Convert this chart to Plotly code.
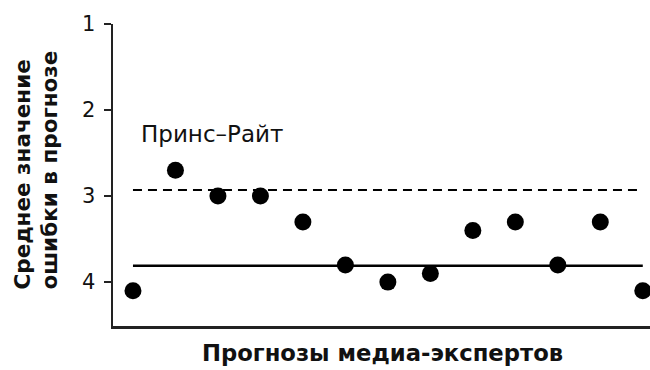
import plotly.graph_objects as go

experts = list(range(13))
errors = [4.1, 2.7, 3.0, 3.0, 3.3, 3.8, 4.0, 3.9, 3.4, 3.3, 3.8, 3.3, 4.1]
dashed_level = 2.93
solid_level = 3.81
y_ticks = [1, 2, 3, 4]
label_text = "Принс–Райт"
x_title = "Прогнозы медиа-экспертов"
y_title = "Среднее значение<br>ошибки в прогнозе"

FONT = "DejaVu Sans, Liberation Sans, Arial, sans-serif"

W, H = 650, 370
L, T, B, R = 113, 24, 44, 0
PW = W - L - R   # 537
PH = H - T - B   # 302


def px(xp):
    return (xp - L) / PW


def py(yp):
    return (T + PH - yp) / PH


fig = go.Figure()
fig.add_trace(go.Scatter(
    x=experts, y=errors, mode="markers",
    marker=dict(size=17, color="black"),
    showlegend=False, hoverinfo="skip", cliponaxis=False))

fig.add_shape(type="line", xref="x", yref="y", x0=experts[0], x1=experts[-1],
              y0=dashed_level, y1=dashed_level,
              line=dict(color="black", width=2, dash="9px,6px"), layer="below")
fig.add_shape(type="line", xref="x", yref="y", x0=experts[0], x1=experts[-1],
              y0=solid_level, y1=solid_level,
              line=dict(color="black", width=2.5), layer="below")

fig.add_annotation(x=px(212), y=py(134), xref="paper", yref="paper", text=label_text,
                   showarrow=False, font=dict(family=FONT, size=23, color="#111"),
                   xanchor="center", yanchor="middle")

fig.add_annotation(x=px(382), y=py(353), xref="paper", yref="paper",
                   text="<b>" + x_title + "</b>", showarrow=False,
                   xanchor="center", yanchor="middle",
                   font=dict(family=FONT, size=22.7, color="#111"))

fig.add_annotation(text="<b>" + y_title + "</b>", xref="paper", yref="paper",
                   x=px(36), y=py(292), textangle=-90,
                   showarrow=False, align="left", xanchor="center", yanchor="bottom",
                   font=dict(family=FONT, size=21.5, color="#111"))

fig.update_layout(
    width=W, height=H,
    margin=dict(l=L, r=R, t=T, b=B, pad=0),
    paper_bgcolor="white", plot_bgcolor="white",
    font=dict(family=FONT, color="#111"),
    xaxis=dict(range=[-0.47, 12.17], showticklabels=False, ticks="",
               showgrid=False, zeroline=False, showline=True,
               linecolor="#222", linewidth=2.5, fixedrange=True),
    yaxis=dict(range=[4.51, 1], tickvals=y_ticks, ticks="outside", ticklen=7,
               tickwidth=2, tickcolor="#222", showgrid=False, zeroline=False,
               showline=True, linecolor="#222", linewidth=2.5, ticklabelstandoff=4,
               tickfont=dict(family=FONT, size=21, color="#111"), fixedrange=True),
)

fig.write_html(
    "out.html",
    config={"displayModeBar": False, "staticPlot": True},
    post_script="document.body.style.margin='0';"
                "document.documentElement.style.overflow='hidden';"
                "document.body.style.overflow='hidden';",
)
